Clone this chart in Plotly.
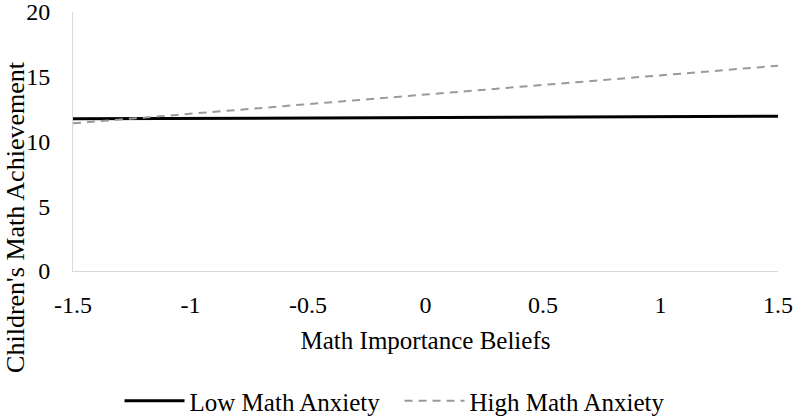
import plotly.graph_objects as go

x_vals = [-1.5, 1.5]
low_anxiety = [11.75, 11.95]
high_anxiety = [11.4, 15.85]
x_ticks = [-1.5, -1, -0.5, 0, 0.5, 1, 1.5]
x_tick_labels = ["-1.5", "-1", "-0.5", "0", "0.5", "1", "1.5"]
y_ticks = [0, 5, 10, 15, 20]

font_family = "Liberation Serif, Times New Roman, serif"

fig = go.Figure()
fig.add_trace(go.Scatter(x=x_vals, y=low_anxiety, mode="lines", name="Low Math Anxiety",
                         line=dict(color="black", width=3)))
fig.add_trace(go.Scatter(x=x_vals, y=high_anxiety, mode="lines", name="High Math Anxiety",
                         line=dict(color="#9a9a9a", width=2, dash="8px,6px")))

fig.update_layout(
    width=803, height=417,
    margin=dict(l=73, r=25, t=12, b=146, autoexpand=False),
    plot_bgcolor="white", paper_bgcolor="white",
    font=dict(family=font_family, size=24, color="black"),
    showlegend=True,
    legend=dict(orientation="h", x=0.066, xanchor="left", y=-0.502, yanchor="middle",
                font=dict(size=25), itemwidth=60, entrywidth=205, entrywidthmode="pixels",
                tracegroupgap=0),
    xaxis=dict(range=[-1.5, 1.5], tickvals=x_ticks, ticktext=x_tick_labels,
               showgrid=False, zeroline=False, showline=True, linecolor="#d9d9d9",
               linewidth=1, ticks="", ticklabelstandoff=12, automargin=False,
               ticklabeloverflow="allow", tickfont=dict(size=24),
               title=dict(text="Math Importance Beliefs", standoff=14, font=dict(size=25))),
    yaxis=dict(range=[0, 20], tickvals=y_ticks, showgrid=False, zeroline=False,
               showline=True, linecolor="#d9d9d9", linewidth=1, ticks="",
               ticklabelstandoff=17, automargin=False, ticklabeloverflow="allow",
               tickfont=dict(size=24)),
    annotations=[dict(text="Children's Math Achievement", xref="paper", yref="paper",
                      x=-0.081, y=0.2085, xanchor="center", yanchor="middle",
                      textangle=-90, showarrow=False, font=dict(size=26))],
)

fig.write_html("out.html", config={"displayModeBar": False},
               post_script="document.body.style.margin='0';")
